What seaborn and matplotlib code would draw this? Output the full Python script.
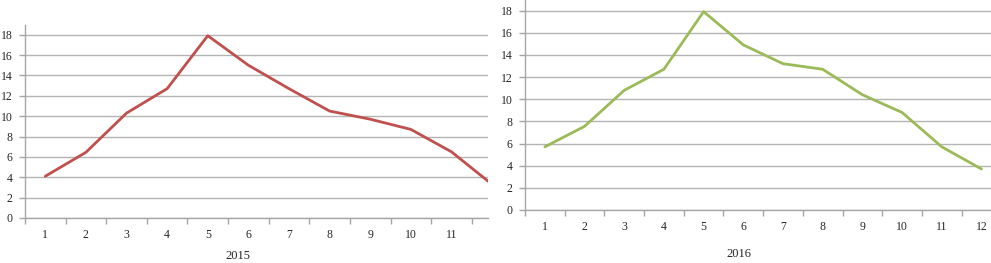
import pandas as pd
import seaborn as sns
import matplotlib.pyplot as plt
from matplotlib.ticker import FixedLocator

# monthly values
months = list(range(1, 13))
values_2015 = [4.1, 6.45, 10.3, 12.7, 17.9, 15.0, 12.7, 10.5, 9.7, 8.7, 6.5, 3.3]
values_2016 = [5.7, 7.55, 10.8, 12.7, 17.9, 14.9, 13.2, 12.7, 10.4, 8.8, 5.7, 3.7]

df15 = pd.DataFrame({'month': months, 'value': values_2015})
df16 = pd.DataFrame({'month': months, 'value': values_2016})

sns.set_style('white')
plt.rcParams['font.family'] = ['Liberation Serif', 'DejaVu Serif']

fig = plt.figure(figsize=(9.91, 2.63), dpi=100)
W, H = 991, 263

# axes placed in pixel terms (left, top, right, bottom)
ax1 = fig.add_axes([25 / W, (H - 218) / H, (488 - 25) / W, (218 - 25) / H])
ax2 = fig.add_axes([525 / W, (H - 210) / H, (991 - 525) / W, 210 / H])

panels = [
    (ax1, df15, '#C0504D', '2015', 11.9, -0.168),
    (ax2, df16, '#9BBB59', '2016', 12.24, -0.179),
]

for ax, d, color, label, xmax, label_y in panels:
    sns.lineplot(data=d, x='month', y='value', color=color, linewidth=2.0, ax=ax)
    ax.set_xlim(0.5, xmax)
    ax.set_ylim(0, 18.95)
    ax.set_yticks(range(0, 19, 2))
    ax.set_xticks([m for m in months if m < xmax])
    ax.xaxis.set_minor_locator(FixedLocator([m + 0.5 for m in range(0, 13)]))
    ax.grid(axis='y', color='#b4b4b4', linewidth=1.0)
    ax.set_axisbelow(True)
    for side in ['top', 'right']:
        ax.spines[side].set_visible(False)
    for side in ['left', 'bottom']:
        ax.spines[side].set_color('#a6a6a6')
        ax.spines[side].set_linewidth(1.0)
    ax.tick_params(axis='y', which='major', length=4, width=1, color='#a6a6a6',
                   direction='out', pad=5, labelsize=8.5, left=True)
    ax.tick_params(axis='x', which='major', length=0, pad=8, labelsize=8.5)
    ax.tick_params(axis='x', which='minor', length=4, width=1, color='#a6a6a6',
                   direction='out', bottom=True)
    ax.set_ylabel('')
    ax.set_xlabel(label, fontsize=9)
    ax.xaxis.set_label_coords(0.46, label_y)

plt.savefig('out.png', dpi=100)
